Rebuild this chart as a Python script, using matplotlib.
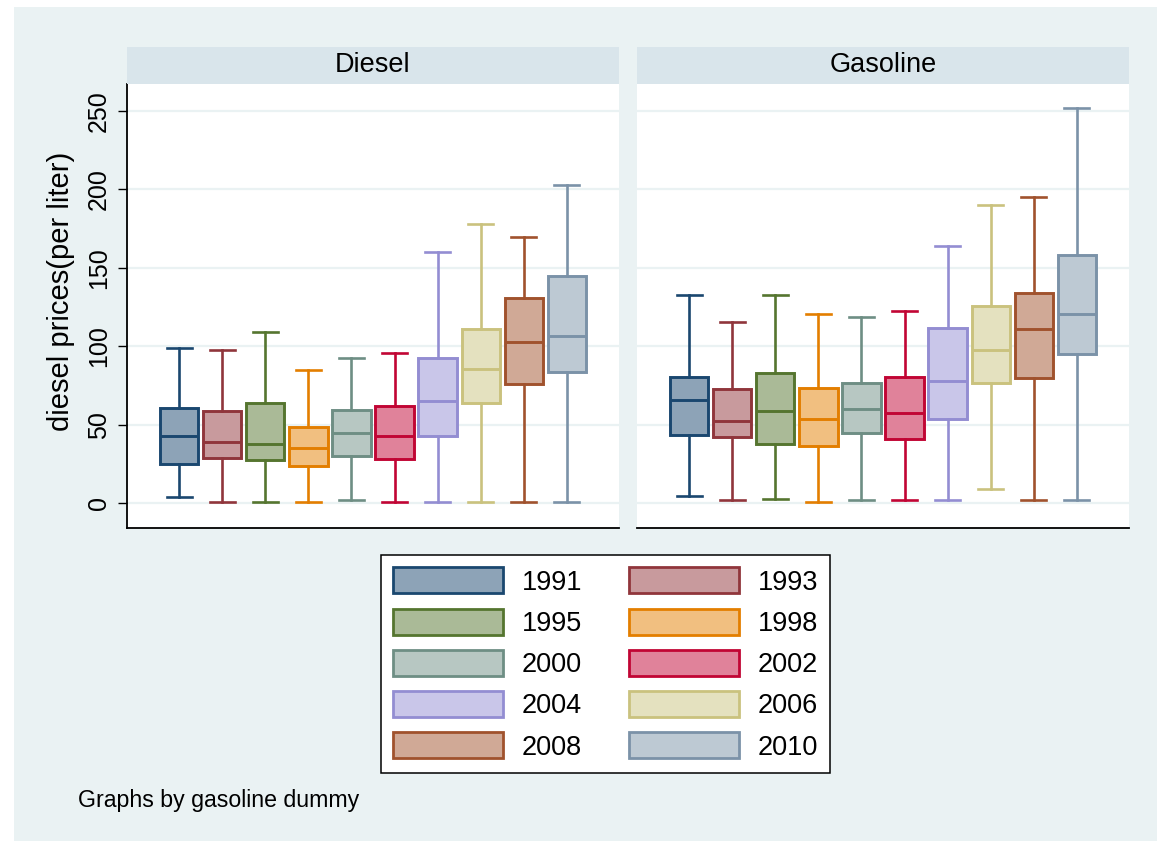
import numpy as np
import matplotlib
matplotlib.use("Agg")
import matplotlib.pyplot as plt
from matplotlib.colors import to_rgb
from matplotlib.patches import Patch, Rectangle

plt.rcParams["font.family"] = ["Liberation Sans", "DejaVu Sans"]

years = ["1991", "1993", "1995", "1998", "2000", "2002", "2004", "2006", "2008", "2010"]
edge_colors = ["#1a476f", "#90353b", "#55752f", "#e37e00", "#6e8e84",
               "#c10534", "#938dd2", "#cac27e", "#a0522d", "#7b92a8"]
panels = ["Diesel", "Gasoline"]

# five-number summaries per year (whisker low, q1, median, q3, whisker high)
diesel_lo = [4, 1, 1, 1, 2, 1, 1, 1, 1, 1]
diesel_q1 = [25.3, 29, 27.8, 24, 29.9, 28.4, 42.7, 64.1, 76, 83.5]
diesel_med = [42.9, 39.3, 37.8, 35.4, 44.6, 42.9, 65.4, 85.6, 103, 106.8]
diesel_q3 = [60.7, 59, 63.7, 48.6, 59.7, 62.2, 92.8, 111, 131, 144.8]
diesel_hi = [99, 97.7, 109, 85, 92.8, 95.8, 160, 178, 170, 202.8]

gas_lo = [5, 2, 3, 1, 2, 2, 2, 9, 2, 2]
gas_q1 = [43.5, 42.4, 37.8, 36.7, 44.6, 41.2, 53.7, 76.9, 79.7, 95.1]
gas_med = [65.8, 52.7, 59, 53.7, 59.9, 57.8, 77.9, 97.7, 110.9, 120.6]
gas_q3 = [80.7, 72.6, 82.8, 73.7, 76.9, 80.3, 111.9, 125.9, 133.8, 158.2]
gas_hi = [132.7, 115.7, 132.7, 120.6, 118.9, 122.7, 163.8, 190, 195, 251.9]

yticks = [0, 50, 100, 150, 200, 250]

BG = "#eaf2f3"
STRIP = "#d9e5eb"


def lighten(c, f=0.5):
    r, g, b = to_rgb(c)
    return (r + (1 - r) * f, g + (1 - g) * f, b + (1 - b) * f)


def stats(lo, q1, med, q3, hi):
    return [dict(whislo=a, q1=b, med=c, q3=d, whishi=e)
            for a, b, c, d, e in zip(lo, q1, med, q3, hi)]


W, H = 1157, 841
fig = plt.figure(figsize=(W / 100, H / 100), dpi=100)
fig.patch.set_facecolor("white")
fig.patches.append(Rectangle((14 / W, 0), 1 - 14 / W, 1 - 7 / H,
                             transform=fig.transFigure, facecolor=BG,
                             edgecolor="none", zorder=-10))

bottom, top = 1 - 528 / H, 1 - 84 / H
strip_h = 37 / H
lefts = [127 / W, 637 / W]
width = 492 / W

data = [stats(diesel_lo, diesel_q1, diesel_med, diesel_q3, diesel_hi),
        stats(gas_lo, gas_q1, gas_med, gas_q3, gas_hi)]

axes = []
for i, (left, name, st) in enumerate(zip(lefts, panels, data)):
    ax = fig.add_axes([left, bottom, width, top - bottom])
    ax.set_facecolor("white")
    pos = np.arange(len(years))
    bp = ax.bxp(st, positions=pos, widths=0.89, capwidths=0.58,
                patch_artist=True, showfliers=False)
    for k, c in enumerate(edge_colors):
        bp["boxes"][k].set(facecolor=lighten(c), edgecolor=c, linewidth=2.1)
        bp["medians"][k].set(color=c, linewidth=2.1)
        for ln in bp["whiskers"][2 * k:2 * k + 2] + bp["caps"][2 * k:2 * k + 2]:
            ln.set(color=c, linewidth=1.9)
    ax.set_xlim(-1.21, 10.21)
    ax.set_ylim(-15.7, 267.2)
    ax.set_xticks([])
    ax.set_yticks(yticks)
    ax.grid(axis="y", color=BG, linewidth=1.6)
    ax.set_axisbelow(True)
    for s in ("top", "right"):
        ax.spines[s].set_visible(False)
    ax.spines["bottom"].set(color="black", linewidth=1.3)
    if i == 0:
        ax.spines["left"].set(color="black", linewidth=1.3)
        ax.tick_params(axis="y", length=6.5, width=1.0, pad=5,
                       labelsize=18, labelrotation=90)
        plt.setp(ax.get_yticklabels(), va="center")
    else:
        ax.spines["left"].set_visible(False)
        ax.tick_params(axis="y", length=0, labelleft=False)

    sax = fig.add_axes([left, top, width, strip_h])
    sax.set_facecolor(STRIP)
    sax.set_xticks([])
    sax.set_yticks([])
    for s in sax.spines.values():
        s.set_visible(False)
    sax.text(0.5, 0.5, name, ha="center", va="center", fontsize=19.5,
             transform=sax.transAxes)
    axes.append(ax)

fig.text(61 / W, 1 - 291 / H, "diesel prices(per liter)", rotation=90,
         ha="center", va="center", fontsize=21)

# legend filled row by row: left column gets the even entries
order = list(range(0, 10, 2)) + list(range(1, 10, 2))
handles = [Patch(facecolor=lighten(edge_colors[k]), edgecolor=edge_colors[k],
                 linewidth=2, label=years[k]) for k in order]
leg = fig.legend(handles=handles, ncol=2, loc="center",
                 bbox_to_anchor=(605.5 / W, 1 - 664 / H), fontsize=19.5,
                 handlelength=4.07, handleheight=1.1, handletextpad=0.67,
                 columnspacing=1.74, labelspacing=0.48, borderpad=0.45,
                 fancybox=False, framealpha=1, edgecolor="black")
leg.get_frame().set_linewidth(1.1)

fig.text(78 / W, 1 - 800 / H, "Graphs by gasoline dummy", ha="left",
         va="center", fontsize=16.7)

fig.savefig("out.png", dpi=100, facecolor=fig.get_facecolor())
